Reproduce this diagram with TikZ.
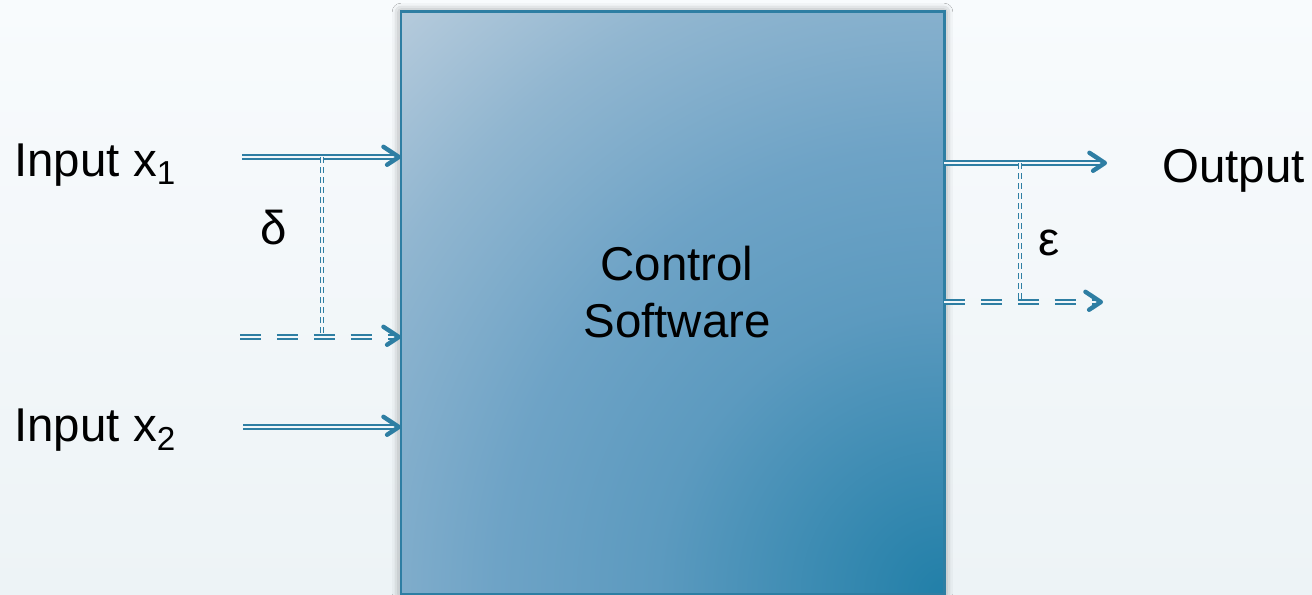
\documentclass[tikz,border=0pt]{standalone}
\usepackage{fontspec}
\setmainfont{Liberation Sans}
\usepackage{xcolor}
\usetikzlibrary{arrows.meta, positioning, calc, shadows.blur, decorations.markings}
\definecolor{flowblue}{RGB}{46,126,163}
\definecolor{bgtop}{RGB}{248,251,253}
\definecolor{bgbottom}{RGB}{237,243,246}
\definecolor{boxdark}{RGB}{33,127,168}
\definecolor{boxmidA}{RGB}{92,154,191}
\definecolor{boxmidB}{RGB}{110,163,198}
\definecolor{boxmidC}{RGB}{145,182,208}
\definecolor{boxlight}{RGB}{182,203,220}
\pgfdeclareradialshading{boxshade}{\pgfpoint{0bp}{0bp}}{color(0bp)=(boxdark); color(9bp)=(boxmidA); color(14bp)=(boxmidB); color(20bp)=(boxmidC); color(25bp)=(boxlight); color(50bp)=(boxlight)}

\begin{document}
\begin{tikzpicture}[
    ctrlbox/.style={draw=flowblue, line width=1.7pt, outer sep=0pt, inner sep=0pt,
        blur shadow={shadow xshift=0pt, shadow yshift=0pt, shadow blur radius=5pt, shadow opacity=45},
        path picture={\shade[shading=boxshade] (path picture bounding box.south east) circle (16cm);}},
    sig/.style={draw=flowblue, line width=1.2pt, double=bgtop!50!bgbottom, double distance=1.3pt,
        shorten >=2.5pt,
        postaction={decorate, decoration={markings, mark=at position 1 with
            {\draw[flowblue, solid, line width=2.5pt, line cap=round, line join=round]
                (-10pt,5.8pt) -- (-1.2pt,0pt) -- (-10pt,-5.8pt);}}}},
    sigdash/.style={sig, dash pattern=on 12pt off 9pt},
    gapline/.style={draw=flowblue, line width=0.75pt, double=bgtop!50!bgbottom, double distance=1pt,
        dash pattern=on 3.4pt off 2.3pt},
    lbl/.style={font=\fontsize{27}{32}\selectfont, inner sep=0pt}
]
    % Canvas
    \useasboundingbox (0,0) rectangle (26.24,11.9);
    \shade[top color=bgtop, bottom color=bgbottom] (0,0) rectangle (26.24,11.9);

    % Control software block
    \node[ctrlbox, minimum width=10.86cm, minimum height=11.64cm] (ctrl) at (13.45,5.84) {};
    \node[lbl, align=center] (ctrltext) at (13.54,6.06) {Control\\Software};

    % Inputs
    \node[lbl, anchor=base west] (inx1) at (0.28,8.36) {Input x\textsubscript{1}};
    \node[lbl, anchor=base west] (inx2) at (0.28,3.06) {Input x\textsubscript{2}};
    \coordinate (x1s) at (4.84,8.76);
    \coordinate (x1p) at (4.80,5.16);
    \coordinate (x2s) at (4.86,3.36);
    \draw[sig] (x1s) -- (x1s -| ctrl.west);
    \draw[sigdash] (x1p) -- (x1p -| ctrl.west);
    \draw[sig] (x2s) -- (x2s -| ctrl.west);

    % Input deviation
    \coordinate (dtop) at (6.44,8.76);
    \coordinate (dbot) at (6.44,5.16);
    \draw[gapline] (dtop) -- (dbot);
    \node[lbl] (delta) at (5.48,7.34) {δ};

    % Outputs
    \coordinate (os) at (22.14,8.64);
    \coordinate (op) at (22.06,5.86);
    \draw[sig] (os -| ctrl.east) -- (os);
    \draw[sigdash] (op -| ctrl.east) -- (op);
    \node[lbl, anchor=base west] (out) at (23.24,8.24) {Output};

    % Output deviation
    \coordinate (etop) at (20.40,8.64);
    \coordinate (ebot) at (20.40,5.86);
    \draw[gapline] (etop) -- (ebot);
    \node[lbl] (eps) at (20.98,7.04) {ε};
\end{tikzpicture}
\end{document}
